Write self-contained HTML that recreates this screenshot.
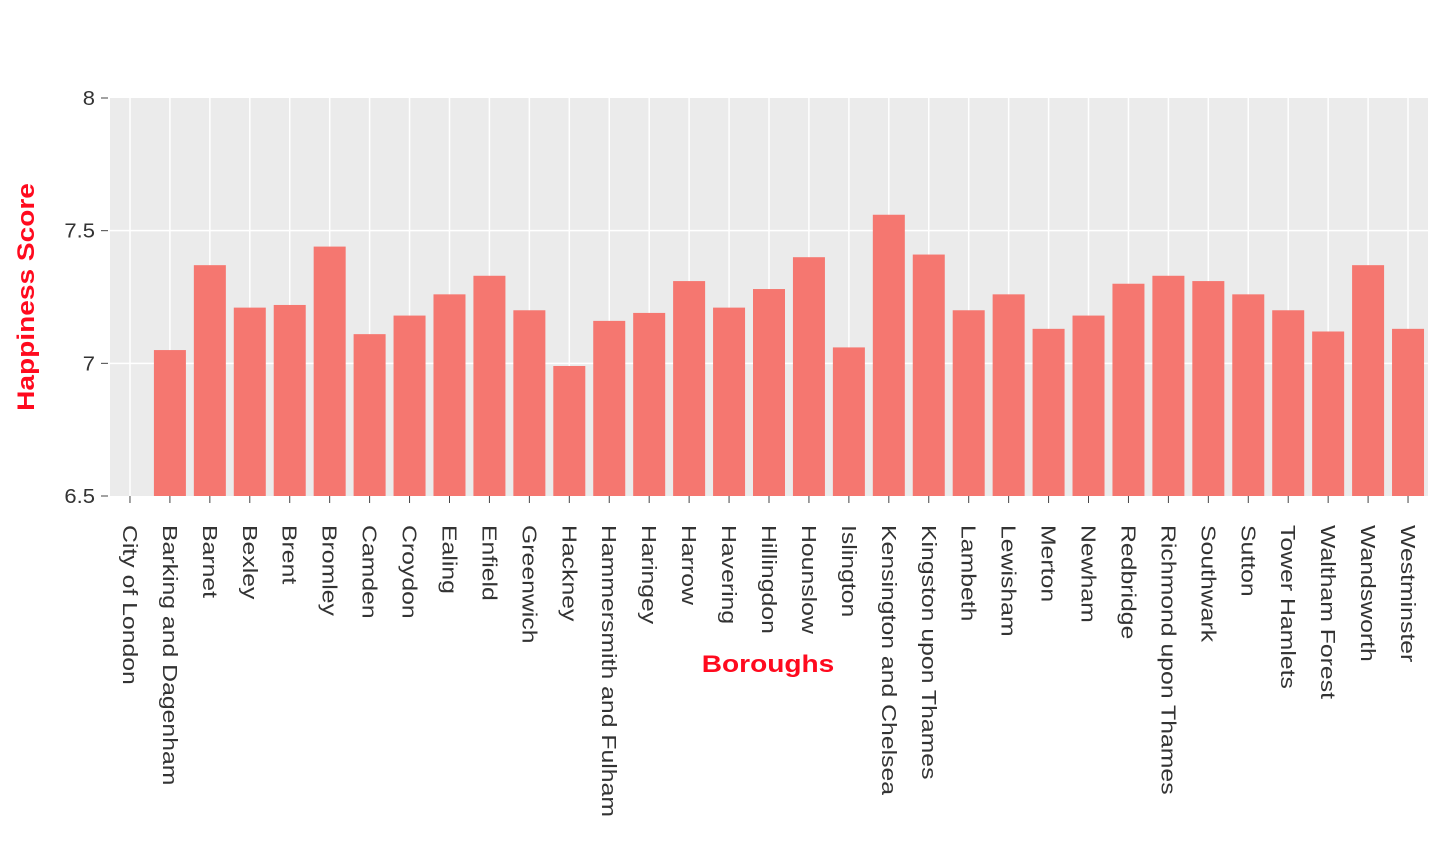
<!DOCTYPE html>
<html><head><meta charset="utf-8"><style>
body{margin:0;background:#fff;}
svg text{font-family:"Liberation Sans",sans-serif;}
</style></head><body>
<svg id="chart" width="1436" height="844">
<rect x="110" y="98" width="1318" height="398" fill="#ebebeb"/>
<g id="grid"></g><g id="bars"></g><g id="xaxis"></g><g id="yaxis"></g>
<text transform="translate(768,672) scale(1.17,1)" text-anchor="middle" font-size="24" font-weight="bold" fill="#ff0a1e">Boroughs</text>
<text transform="translate(34,297) rotate(-90) scale(1.17,1)" text-anchor="middle" font-size="24" font-weight="bold" fill="#ff0a1e">Happiness Score</text>
</svg>
<script>
const categories=["City of London","Barking and Dagenham","Barnet","Bexley","Brent","Bromley","Camden","Croydon","Ealing","Enfield","Greenwich","Hackney","Hammersmith and Fulham","Haringey","Harrow","Havering","Hillingdon","Hounslow","Islington","Kensington and Chelsea","Kingston upon Thames","Lambeth","Lewisham","Merton","Newham","Redbridge","Richmond upon Thames","Southwark","Sutton","Tower Hamlets","Waltham Forest","Wandsworth","Westminster"];
const values=[null,7.05,7.37,7.21,7.22,7.44,7.11,7.18,7.26,7.33,7.20,6.99,7.16,7.19,7.31,7.21,7.28,7.40,7.06,7.56,7.41,7.20,7.26,7.13,7.18,7.30,7.33,7.31,7.26,7.20,7.12,7.37,7.13];
const yTicks=[6.5,7,7.5,8];
const yTickLabels=["6.5","7","7.5","8"];
const NS="http://www.w3.org/2000/svg";
const L=110,R=1428,T=98,B=496,ymin=6.5,ymax=8;
const band=(R-L)/categories.length;
function x(i){return L+band*(i+0.5);}
function y(v){return B-(v-ymin)/(ymax-ymin)*(B-T);}
function mk(tag,attrs,parent){const e=document.createElementNS(NS,tag);for(const k in attrs)e.setAttribute(k,attrs[k]);parent.appendChild(e);return e;}
const grid=document.getElementById('grid'),bars=document.getElementById('bars'),xa=document.getElementById('xaxis'),ya=document.getElementById('yaxis');
yTicks.forEach((t,i)=>{
  if(t>ymin&&t<ymax){const g=mk('line',{x1:L,x2:R,y1:y(t),y2:y(t),stroke:'#fff','stroke-width':1.5},grid);
  
  }
  const tk=mk('line',{x1:101,x2:108,y1:y(t),y2:y(t),stroke:'#444','stroke-width':1},ya);
  
  
  const lb=mk('text',{transform:`translate(95,${y(t)+7}) scale(1.1,1)`,'text-anchor':'end','font-size':20,fill:'#333'},ya);
  lb.textContent=yTickLabels[i];
  
  
});
categories.forEach((c,i)=>{
  const cx=x(i);
  const g=mk('line',{x1:cx,x2:cx,y1:T,y2:B,stroke:'#fff','stroke-width':1.5},grid);
  
  
  if(values[i]!=null){
    const r=mk('rect',{x:cx-16,y:y(values[i]),width:32,height:B-y(values[i]),fill:'#f57770'},bars);
    
    
  }
  const tk=mk('line',{x1:cx,x2:cx,y1:B,y2:B+7,stroke:'#444','stroke-width':1},xa);
  
  
  const lb=mk('text',{transform:`translate(${cx-7},${B+29}) rotate(90) scale(1.24,1)`,'font-size':20,fill:'#333'},xa);
  lb.textContent=c;
  
  
});
</script>
</body></html>
